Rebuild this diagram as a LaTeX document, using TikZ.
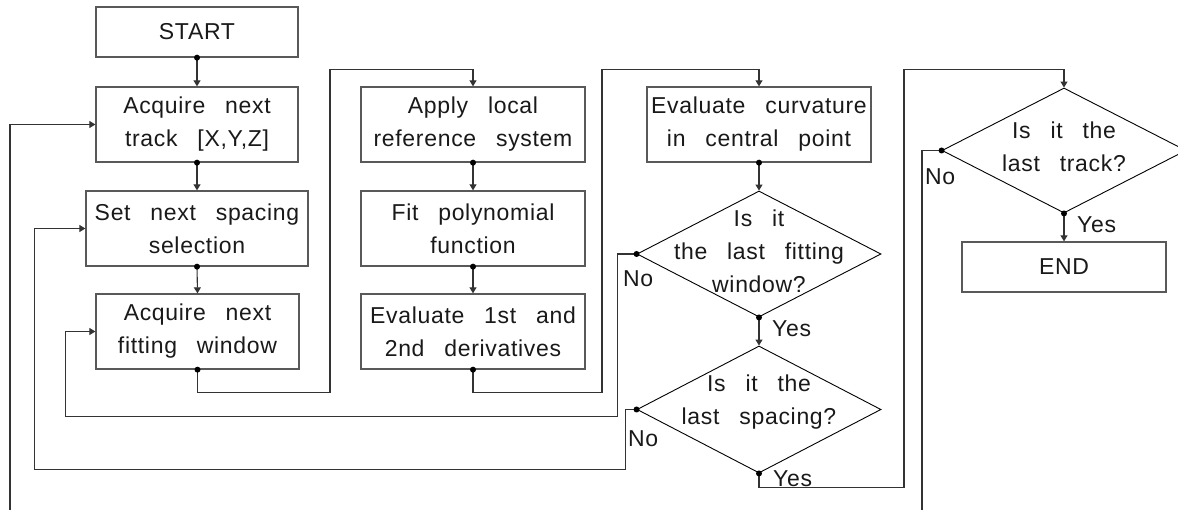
\documentclass[tikz,border=0pt]{standalone}
\usepackage{fontspec}
\setmainfont{Liberation Sans}[LetterSpace=3, WordSpace=2.8]
\usetikzlibrary{shapes.geometric,arrows.meta,calc}

\tikzset{
  every node/.style={font=\fontsize{23}{33}\selectfont, text=black!90},
  box/.style={draw=black!65, line width=1.3pt, minimum height=75pt, inner sep=0pt, align=center},
  decision/.style={diamond, draw=black, line width=0.9pt, minimum width=244pt, minimum height=126pt, inner sep=0pt},
  qtext/.style={align=center, inner sep=0pt},
  conn/.style={draw=black!80, line width=1.1pt},
  flow/.style={conn, -{Triangle[width=7pt,length=6pt]}},
  lbl/.style={anchor=base west, inner sep=0pt},
}

\begin{document}
\begin{tikzpicture}[x=1pt, y=-1pt]
  \useasboundingbox (0,0) rectangle (1178,510);
  \clip (0,0) rectangle (1178,510);

  % first column: track, spacing and window loops
  \node[box, minimum width=202pt, minimum height=50pt] (startbox) at (197,32) {START};
  \node[box, minimum width=202pt] (track)   at (197,124.5) {Acquire next\\track [X,Y,Z]};
  \node[box, minimum width=222pt] (spacing) at (197,228.5) {Set next spacing\\selection};
  \node[box, minimum width=203pt] (window)  at (197.5,331.5) {Acquire next\\fitting window};

  % second column: local fit
  \node[box, minimum width=224pt] (apply) at (473,124.5) {Apply local\\reference system};
  \node[box, minimum width=224pt] (fit)   at (473,228.5) {Fit polynomial\\function};
  \node[box, minimum width=224pt] (deriv) at (473,331.5) {Evaluate 1st and\\2nd derivatives};

  % third column: curvature and the two decisions
  \node[box, minimum width=224pt] (curv) at (759,124.5) {Evaluate curvature\\in central point};
  \node[decision] (d1) at (759,254) {};
  \node[qtext] at (759,251) {Is it\\the last fitting\\window?};
  \node[decision, minimum height=127pt] (d2) at (759,409.5) {};
  \node[qtext] at (759,402) {Is it the\\last spacing?};

  % fourth column: last track decision and end
  \node[decision, minimum height=125pt] (d3) at (1064,150.5) {};
  \node[qtext] at (1064,146.5) {Is it the\\last track?};
  \node[box, minimum width=204pt, minimum height=50pt] (endbox) at (1064,267) {END};

  % free ends of the outer track loop
  \coordinate (retOut) at (922,510);
  \coordinate (retIn)  at (10,510);

  % straight flow
  \draw[flow] (startbox.south) -- (track.north);
  \draw[flow] (track.south) -- (spacing.north);
  \draw[flow] (spacing.south) -- (window.north);
  \draw[flow] (apply.south) -- (fit.north);
  \draw[flow] (fit.south) -- (deriv.north);
  \draw[flow] (curv.south) -- (d1.north);
  \draw[flow] (d1.south) -- (d2.north);
  \draw[flow] (d3.south) -- (endbox.north);

  % column changes
  \draw[flow] (window.south) -- ++(0,23) -| ($(apply.north)+(-143,-17)$) -| (apply.north);
  \draw[flow] (deriv.south) -- ++(0,23) -| ($(curv.north)+(-157,-17)$) -| (curv.north);
  \draw[flow] (d2.south) -- ++(0,14) -| ($(d3.north)+(-160,-18)$) -| (d3.north);

  % loops back
  \draw[flow] (d1.west) -- ++(-19,0) |- ($(window.west)+(-30,85)$) |- (window.west);
  \draw[flow] (d2.west) -- ++(-11,0) |- ($(spacing.west)+(-51,241)$) |- (spacing.west);
  \draw[conn] (d3.west) -| (retOut);
  \draw[flow] (retIn) |- (track.west);

  % branch labels
  \node[lbl] at (772,336.5) {Yes};
  \node[lbl] at (623,286.5) {No};
  \node[lbl] at (628,446.5) {No};
  \node[lbl] at (773,486) {Yes};
  \node[lbl] at (925,185) {No};
  \node[lbl] at (1077,233) {Yes};

  % junction dots where connectors leave a shape
  \foreach \p in {startbox.south, track.south, spacing.south, window.south,
                  apply.south, fit.south, deriv.south, curv.south,
                  d1.south, d1.west, d2.south, d2.west, d3.west, d3.south}
    \fill[black] (\p) circle (3pt);
\end{tikzpicture}
\end{document}
